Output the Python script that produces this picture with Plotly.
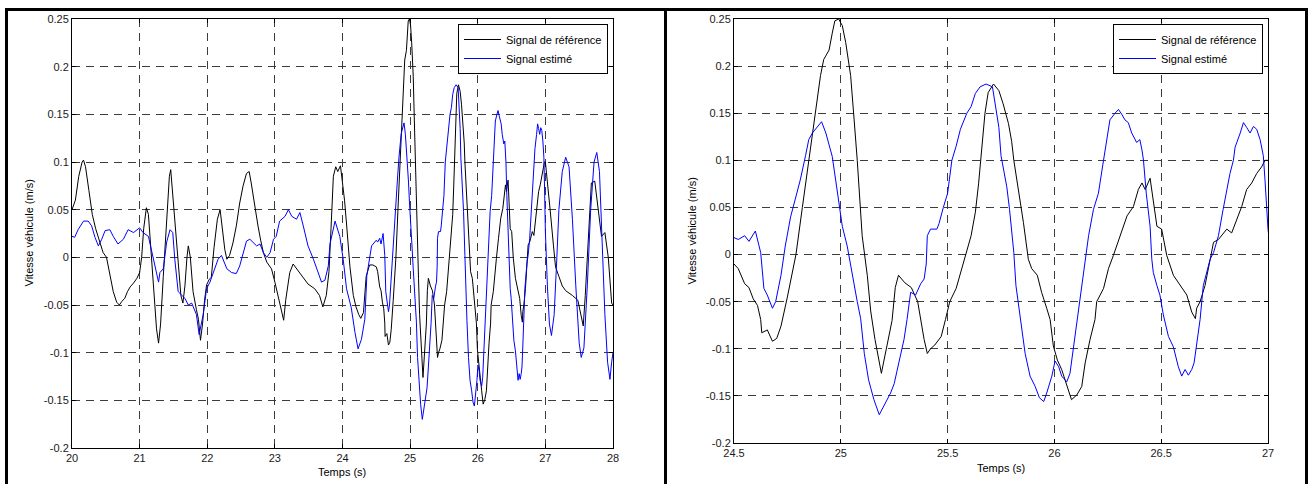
import plotly.graph_objects as go

# ---------------- data ----------------
t_ref = [20.00, 20.05, 20.10, 20.15, 20.17, 20.20, 20.25, 20.30, 20.35, 20.41, 20.46, 20.51, 20.56, 20.61,
         20.66, 20.70, 20.74, 20.78, 20.82, 20.86, 20.91, 20.96, 21.00, 21.03, 21.06, 21.10, 21.13, 21.16,
         21.19, 21.23, 21.25, 21.28, 21.31, 21.35, 21.40, 21.44, 21.46, 21.49, 21.52, 21.57, 21.61, 21.64,
         21.67, 21.70, 21.72, 21.75, 21.79, 21.84, 21.87, 21.90, 21.93, 21.96, 21.99, 22.03, 22.06, 22.10,
         22.15, 22.19, 22.22, 22.26, 22.29, 22.33, 22.38, 22.43, 22.48, 22.53, 22.58, 22.62, 22.65, 22.68,
         22.72, 22.75, 22.79, 22.83, 22.88, 22.95, 23.00, 23.04, 23.07, 23.10, 23.13, 23.16, 23.19, 23.22,
         23.27, 23.30, 23.34, 23.38, 23.42, 23.49, 23.55, 23.59, 23.66, 23.71, 23.76, 23.80, 23.83, 23.865,
         23.90, 23.93, 23.97, 23.99, 24.03, 24.06, 24.11, 24.16, 24.20, 24.24, 24.27, 24.31, 24.35, 24.40,
         24.45, 24.50, 24.52, 24.55, 24.57, 24.59, 24.61, 24.625, 24.63, 24.656, 24.68, 24.70, 24.72, 24.75,
         24.79, 24.82, 24.85, 24.88, 24.905, 24.92, 24.945, 24.96, 24.972, 24.99, 25.007, 25.023, 25.046,
         25.06, 25.077, 25.10, 25.124, 25.14, 25.16, 25.19, 25.20, 25.22, 25.24, 25.255, 25.27, 25.30, 25.33,
         25.36, 25.39, 25.405, 25.42, 25.44, 25.47, 25.49, 25.51, 25.54, 25.56, 25.585, 25.61, 25.63, 25.645,
         25.66, 25.675, 25.69, 25.715, 25.74, 25.76, 25.785, 25.80, 25.81, 25.83, 25.855, 25.878, 25.894,
         25.92, 25.94, 25.964, 25.98, 25.995, 26.014, 26.034, 26.058, 26.08, 26.105, 26.128, 26.144, 26.167,
         26.19, 26.198, 26.23, 26.253, 26.276, 26.307, 26.34, 26.37, 26.393, 26.41, 26.425, 26.448, 26.463,
         26.48, 26.502, 26.526, 26.557, 26.588, 26.62, 26.643, 26.66, 26.666, 26.682, 26.705, 26.73, 26.745,
         26.768, 26.783, 26.807, 26.83, 26.854, 26.877, 26.90, 26.924, 26.947, 26.97, 26.986, 27.00, 27.04,
         27.07, 27.12, 27.15, 27.20, 27.25, 27.30, 27.40, 27.48, 27.52, 27.56, 27.59, 27.61, 27.66, 27.68,
         27.73, 27.76, 27.81, 27.83, 27.88, 27.93, 27.98, 28.00]
v_ref = [0.050, 0.060, 0.085, 0.100, 0.102, 0.095, 0.070, 0.045, 0.030, 0.015, 0.005, 0.000, -0.018, -0.036,
         -0.047, -0.050, -0.046, -0.043, -0.036, -0.031, -0.027, -0.022, -0.016, 0.000, 0.030, 0.052, 0.045, 0.015,
         -0.010, -0.045, -0.075, -0.090, -0.070, -0.020, 0.040, 0.085, 0.092, 0.065, 0.033, -0.012, -0.040, -0.048,
         -0.030, 0.000, 0.012, 0.000, -0.036, -0.055, -0.065, -0.087, -0.070, -0.045, -0.029, -0.023, -0.021, 0.010,
         0.040, 0.050, 0.030, 0.008, -0.002, 0.002, 0.015, 0.033, 0.057, 0.075, 0.088, 0.090, 0.078, 0.064,
         0.045, 0.033, 0.018, 0.005, -0.005, -0.012, -0.026, -0.038, -0.047, -0.055, -0.066, -0.045, -0.028, -0.016,
         -0.007, -0.010, -0.014, -0.018, -0.021, -0.028, -0.031, -0.033, -0.040, -0.052, -0.040, -0.015, 0.030, 0.085,
         0.095, 0.090, 0.096, 0.085, 0.060, 0.035, -0.010, -0.040, -0.052, -0.060, -0.064, -0.058, -0.020, -0.008,
         -0.008, -0.010, -0.015, -0.031, -0.035, -0.047, -0.054, -0.069, -0.083, -0.080, -0.092, -0.089, -0.076, -0.045,
         0.000, 0.050, 0.100, 0.150, 0.190, 0.207, 0.217, 0.235, 0.248, 0.250, 0.243, 0.225, 0.190,
         0.150, 0.100, 0.020, -0.022, -0.060, -0.090, -0.126, -0.115, -0.090, -0.070, -0.035, -0.022, -0.030, -0.035,
         -0.050, -0.090, -0.105, -0.100, -0.096, -0.087, -0.069, -0.050, -0.036, -0.019, 0.000, 0.020, 0.045, 0.075,
         0.110, 0.150, 0.172, 0.181, 0.174, 0.160, 0.139, 0.120, 0.100, 0.072, 0.034, -0.005, -0.015,
         -0.022, -0.040, -0.057, -0.069, -0.097, -0.112, -0.122, -0.140, -0.154, -0.149, -0.140, -0.115, -0.090,
         -0.069, -0.050, -0.036, -0.015, -0.001, 0.020, 0.041, 0.051, 0.069, 0.076, 0.069, 0.081, 0.058,
         0.030, 0.027, -0.001, -0.022, -0.033, -0.043, -0.061, -0.068, -0.057, -0.050, -0.033, -0.005, 0.013,
         0.016, 0.020, 0.027, 0.023, 0.037, 0.051, 0.069, 0.076, 0.086, 0.093, 0.100, 0.100, 0.075,
         0.050, 0.012, -0.010, -0.020, -0.030, -0.035, -0.040, -0.045, -0.060, -0.072, -0.040, -0.010, 0.050, 0.078,
         0.080, 0.062, 0.030, 0.022, 0.026, 0.000, -0.048, -0.050]

t_est = [20.00, 20.04, 20.09, 20.17, 20.24, 20.29, 20.34, 20.39, 20.44, 20.49, 20.56, 20.61, 20.68, 20.76,
         20.83, 20.91, 21.00, 21.05, 21.13, 21.18, 21.23, 21.28, 21.30, 21.35, 21.40, 21.45, 21.49, 21.52,
         21.57, 21.62, 21.67, 21.72, 21.77, 21.84, 21.88, 21.94, 21.99, 22.04, 22.11, 22.16, 22.21, 22.29,
         22.36, 22.43, 22.48, 22.53, 22.58, 22.63, 22.68, 22.73, 22.78, 22.83, 22.88, 22.93, 22.98, 23.02,
         23.07, 23.15, 23.20, 23.25, 23.32, 23.37, 23.42, 23.49, 23.57, 23.64, 23.69, 23.74, 23.79, 23.815,
         23.89, 23.96, 24.01, 24.06, 24.13, 24.185, 24.23, 24.28, 24.33, 24.36, 24.43, 24.50, 24.52, 24.55,
         24.57, 24.60, 24.625, 24.64, 24.656, 24.68, 24.695, 24.72, 24.74, 24.765, 24.79, 24.81, 24.835,
         24.85, 24.867, 24.88, 24.91, 24.93, 24.945, 24.96, 24.976, 24.99, 25.007, 25.03, 25.046, 25.06,
         25.077, 25.093, 25.11, 25.13, 25.155, 25.18, 25.20, 25.233, 25.25, 25.27, 25.296, 25.31, 25.327,
         25.35, 25.374, 25.39, 25.40, 25.405, 25.42, 25.45, 25.46, 25.48, 25.50, 25.52, 25.54, 25.56, 25.59,
         25.61, 25.63, 25.652, 25.68, 25.71, 25.72, 25.74, 25.75, 25.777, 25.79, 25.81, 25.82, 25.84, 25.863,
         25.886, 25.91, 25.93, 25.95, 25.964, 25.988, 26.003, 26.02, 26.034, 26.058, 26.073, 26.09, 26.105,
         26.136, 26.16, 26.183, 26.206, 26.23, 26.26, 26.284, 26.30, 26.315, 26.33, 26.346, 26.362, 26.385,
         26.40, 26.41, 26.417, 26.43, 26.448, 26.456, 26.463, 26.48, 26.494, 26.51, 26.534, 26.557, 26.58,
         26.596, 26.612, 26.627, 26.643, 26.654, 26.666, 26.682, 26.697, 26.729, 26.745, 26.768, 26.79,
         26.807, 26.822, 26.838, 26.846, 26.87, 26.885, 26.90, 26.916, 26.932, 26.947, 26.963, 26.978,
         26.986, 27.00, 27.03, 27.06, 27.09, 27.13, 27.17, 27.20, 27.25, 27.30, 27.35, 27.40, 27.45, 27.50,
         27.53, 27.57, 27.62, 27.67, 27.72, 27.76, 27.80, 27.84, 27.88, 27.92, 27.955, 27.98, 28.00]
v_est = [0.022, 0.021, 0.029, 0.038, 0.038, 0.033, 0.021, 0.012, 0.019, 0.028, 0.029, 0.022, 0.014, 0.019,
         0.029, 0.026, 0.031, 0.026, 0.022, 0.005, -0.012, -0.026, -0.016, -0.012, 0.016, 0.029, 0.026, -0.002,
         -0.036, -0.040, -0.043, -0.050, -0.048, -0.060, -0.081, -0.060, -0.033, -0.026, -0.012, -0.002, 0.002, -0.012,
         -0.016, -0.017, -0.009, 0.005, 0.017, 0.019, 0.016, 0.012, 0.014, 0.005, 0.000, 0.005, 0.019, 0.022,
         0.038, 0.043, 0.050, 0.043, 0.040, 0.047, 0.033, 0.012, -0.002, -0.016, -0.026, -0.024, -0.009, 0.014,
         0.038, 0.022, -0.002, -0.033, -0.053, -0.079, -0.096, -0.086, -0.065, -0.019, 0.012, 0.018, 0.016, 0.020,
         0.014, 0.025, 0.002, -0.036, -0.043, -0.057, -0.050, -0.022, 0.009, 0.040, 0.062, 0.079, 0.105,
         0.122, 0.129, 0.133, 0.141, 0.129, 0.115, 0.104, 0.079, 0.058, 0.030, 0.009, -0.012, -0.029,
         -0.050, -0.068, -0.105, -0.133, -0.154, -0.170, -0.161, -0.147, -0.137, -0.115, -0.090, -0.069, -0.040,
         -0.043, -0.031, -0.026, -0.010, 0.020, 0.027, 0.027, 0.033, 0.050, 0.065, 0.100, 0.115, 0.133, 0.150,
         0.157, 0.171, 0.178, 0.181, 0.178, 0.164, 0.135, 0.105, 0.072, 0.048, 0.002, -0.033, -0.066, -0.105,
         -0.129, -0.140, -0.152, -0.156, -0.147, -0.129, -0.113, -0.119, -0.129, -0.135, -0.126, -0.097, -0.069,
         -0.015, 0.020, 0.048, 0.065, 0.100, 0.143, 0.150, 0.154, 0.149, 0.143, 0.140, 0.129, 0.119,
         0.122, 0.111, 0.100, 0.065, 0.030, -0.005, -0.019, -0.033, -0.043, -0.064, -0.087, -0.098, -0.119,
         -0.129, -0.122, -0.128, -0.122, -0.115, -0.094, -0.069, -0.033, -0.005, 0.002, 0.020, 0.048,
         0.069, 0.086, 0.100, 0.114, 0.129, 0.140, 0.135, 0.129, 0.136, 0.133, 0.122, 0.105,
         0.079, 0.027, -0.030, -0.070, -0.082, -0.060, 0.000, 0.050, 0.090, 0.105, 0.095, 0.040, -0.030, -0.090,
         -0.105, -0.095, -0.030, 0.050, 0.100, 0.110, 0.090, 0.020, -0.060, -0.110, -0.128, -0.110, -0.100]

y_ticks = [-0.2, -0.15, -0.1, -0.05, 0, 0.05, 0.1, 0.15, 0.2, 0.25]
y_ticklabels = ["-0.2", "-0.15", "-0.1", "-0.05", "0", "0.05", "0.1", "0.15", "0.2", "0.25"]
x1_ticks = [20, 21, 22, 23, 24, 25, 26, 27, 28]
x1_ticklabels = ["20", "21", "22", "23", "24", "25", "26", "27", "28"]
x2_ticks = [24.5, 25, 25.5, 26, 26.5, 27]
x2_ticklabels = ["24.5", "25", "25.5", "26", "26.5", "27"]

name_ref = "Signal de référence"
name_est = "Signal estimé"
x_title = "Temps (s)"
y_title = "Vitesse véhicule (m/s)"

# ---------------- layout ----------------
W, H = 1308, 484
FONT = "Liberation Sans, Arial, Helvetica, sans-serif"


def px(x):
    return x / W


def py(y):
    return 1 - y / H


fig = go.Figure()
for xa, ya, lg in (("x", "y", "legend"), ("x2", "y2", "legend2")):
    fig.add_trace(go.Scatter(x=t_ref, y=v_ref, mode="lines", name=name_ref,
                             line=dict(color="black", width=1), xaxis=xa, yaxis=ya, legend=lg))
    fig.add_trace(go.Scatter(x=t_est, y=v_est, mode="lines", name=name_est,
                             line=dict(color="#0000ff", width=1), xaxis=xa, yaxis=ya, legend=lg))

axis_common = dict(showline=True, linecolor="black", linewidth=1, mirror="ticks",
                   ticks="inside", ticklen=4, tickcolor="black",
                   showgrid=True, gridcolor="#3c3c3c", gridwidth=1, griddash="8px,6px",
                   zeroline=False, tickfont=dict(family=FONT, size=11, color="#1a1a1a"),
                   automargin=False, fixedrange=True)

legend_common = dict(xanchor="right", yanchor="top", bgcolor="white",
                     bordercolor="black", borderwidth=1, itemwidth=37,
                     font=dict(family=FONT, size=11, color="black"), tracegroupgap=0)

fig.update_layout(
    width=W, height=H,
    margin=dict(l=0, r=0, t=0, b=0),
    paper_bgcolor="white", plot_bgcolor="white",
    font=dict(family=FONT, size=11, color="black"),
    xaxis=dict(domain=[px(72), px(613)], range=[20, 28], tickvals=x1_ticks, ticktext=x1_ticklabels,
               anchor="y", **axis_common),
    yaxis=dict(domain=[py(448), py(19)], range=[-0.2, 0.25], tickvals=y_ticks, ticktext=y_ticklabels,
               anchor="x", **axis_common),
    xaxis2=dict(domain=[px(734), px(1268)], range=[24.5, 27], tickvals=x2_ticks, ticktext=x2_ticklabels,
                anchor="y2", **axis_common),
    yaxis2=dict(domain=[py(443), py(19)], range=[-0.2, 0.25], tickvals=y_ticks, ticktext=y_ticklabels,
                anchor="x2", **axis_common),
    legend=dict(x=px(608), y=py(24), **legend_common),
    legend2=dict(x=px(1263), y=py(24), **legend_common),
    showlegend=True,
)

annotations = [
    dict(text=y_title, x=px(28), y=py(233.5), textangle=-90),
    dict(text=y_title, x=px(691.5), y=py(231), textangle=-90),
    dict(text=x_title, x=px(342.5), y=py(472)),
    dict(text=x_title, x=px(1001), y=py(468)),
]
for a in annotations:
    fig.add_annotation(xref="paper", yref="paper", showarrow=False, xanchor="center", yanchor="middle",
                       font=dict(family=FONT, size=11, color="black"), **a)

# outer frames of the two figures
frame = [
    (px(5), py(9.5), px(1308), py(9.5)),
    (px(6.5), py(9.5), px(6.5), py(484)),
    (px(665.5), py(9.5), px(665.5), py(484)),
    (px(1306.5), py(9.5), px(1306.5), py(484)),
]
for x0, y0, x1, y1 in frame:
    fig.add_shape(type="line", xref="paper", yref="paper", x0=x0, y0=y0, x1=x1, y1=y1,
                  line=dict(color="black", width=3))

fig.write_html("out.html", config={"displayModeBar": False},
               post_script="document.body.style.margin='0px';document.body.style.overflow='hidden';")
